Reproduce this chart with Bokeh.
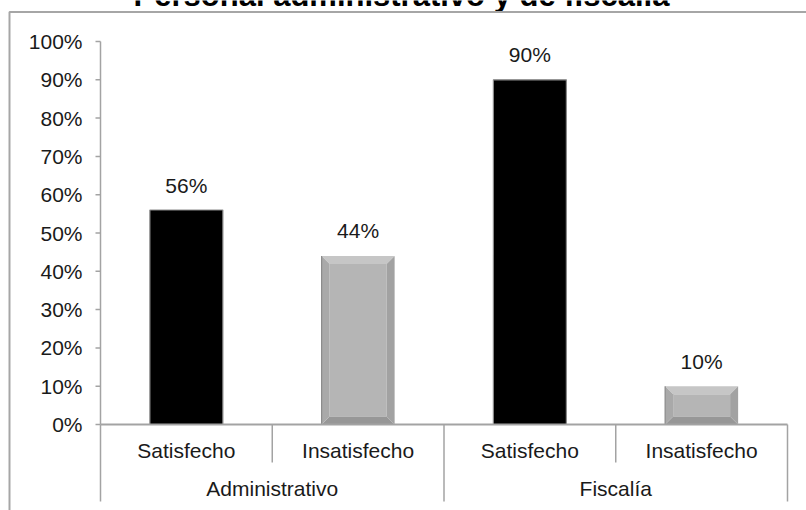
from bokeh.plotting import figure
from bokeh.models import Range1d
from bokeh.core.properties import value
from bokeh.embed import file_html
from bokeh.resources import INLINE

# ---- data ----
title = "Personal administrativo y de fiscalía"
groups = ["Administrativo", "Fiscalía"]
subcats = ["Satisfecho", "Insatisfecho"]
satisfecho = [0.56, 0.90]
insatisfecho = [0.44, 0.10]
y_ticks = [0.0, 0.1, 0.2, 0.3, 0.4, 0.5, 0.6, 0.7, 0.8, 0.9, 1.0]
y_tick_labels = ["0%", "10%", "20%", "30%", "40%", "50%", "60%", "70%", "80%", "90%", "100%"]

# ---- layout helpers (pixel -> data) ----
W, H = 806, 510
X0PX, UNITX = 100.0, 171.75     # category 0 at px 100, 1 category = 171.75 px
Y0PX, UNITY = 424.0, 383.0      # 0% at py 424, 100% = 383 px

def PX(px):
    return (px - X0PX) / UNITX

def PY(py):
    return (Y0PX - py) / UNITY

FONT = value("Liberation Sans")
TXT = "#1a1a1a"
GRID = "#a3a3a3"
FS = "21px"

p = figure(width=W, height=H, output_backend="svg", toolbar_location=None,
           x_range=Range1d(PX(0), PX(W)), y_range=Range1d(PY(H), PY(0)),
           x_axis_location=None, y_axis_location=None, min_border=0)
p.outline_line_color = None
p.xgrid.visible = False
p.ygrid.visible = False
p.background_fill_color = "white"
p.border_fill_color = "white"

n_sub = len(subcats)
n_cat = len(groups) * n_sub
bw = 73.0 / UNITX

# ---- title (cut off at the top, as in the reference) ----
p.text(x=[PX(401)], y=[PY(-5)], text=[title], text_font=FONT, text_font_size="31px",
       text_font_style="bold", text_align="center", text_baseline="alphabetic", text_color="#000000")

# ---- outer chart border ----
p.line([PX(9), PX(9), PX(W)], [PY(H), PY(11.5), PY(11.5)], line_color="#a6a6a6", line_width=2)

# ---- black bars (Satisfecho) ----
sat_x = [g * n_sub + 0.5 for g in range(len(groups))]
p.vbar(x=sat_x, top=satisfecho, bottom=0, width=bw, fill_color="#000000",
       line_color="#8a8a8a", line_width=1.2)

# ---- bevelled grey bars (Insatisfecho) ----
ins_x = [g * n_sub + 1.5 for g in range(len(groups))]
bx = 8.0 / UNITX
by = 8.0 / UNITY
faces_xs, faces_ys = [], []
tops_xs, tops_ys = [], []
bots_xs, bots_ys = [], []
lefts_xs, lefts_ys = [], []
rights_xs, rights_ys = [], []
for xc, t in zip(ins_x, insatisfecho):
    L, R = xc - bw / 2, xc + bw / 2
    faces_xs.append([L + bx, R - bx, R - bx, L + bx]); faces_ys.append([by, by, t - by, t - by])
    tops_xs.append([L, R, R - bx, L + bx]); tops_ys.append([t, t, t - by, t - by])
    bots_xs.append([L, R, R - bx, L + bx]); bots_ys.append([0, 0, by, by])
    lefts_xs.append([L, L, L + bx, L + bx]); lefts_ys.append([0, t, t - by, by])
    rights_xs.append([R, R, R - bx, R - bx]); rights_ys.append([0, t, t - by, by])
p.patches(faces_xs, faces_ys, fill_color="#b5b5b5", line_color=None)
p.patches(tops_xs, tops_ys, fill_color="#c6c6c6", line_color=None)
p.patches(bots_xs, bots_ys, fill_color="#979797", line_color=None)
p.patches(lefts_xs, lefts_ys, fill_color="#a9a9a9", line_color=None)
p.patches(rights_xs, rights_ys, fill_color="#a2a2a2", line_color=None)
p.segment(x0=[xc - bw / 2 for xc in ins_x], y0=[0] * len(ins_x),
          x1=[xc - bw / 2 for xc in ins_x], y1=insatisfecho, line_color="#8a8a8a", line_width=1.2)

# ---- value labels ----
all_x = sat_x + ins_x
all_v = satisfecho + insatisfecho
p.text(x=all_x, y=all_v, text=[f"{round(v * 100)}%" for v in all_v], y_offset=-25,
       text_font=FONT, text_font_size=FS, text_align="center",
       text_baseline="alphabetic", text_color=TXT)

# ---- y axis ----
p.segment(x0=[0], y0=[0], x1=[0], y1=[y_ticks[-1]], line_color=GRID, line_width=1.5)
p.segment(x0=[PX(95)] * len(y_ticks), y0=y_ticks, x1=[0] * len(y_ticks), y1=y_ticks,
          line_color=GRID, line_width=1.5)
p.text(x=[PX(82)] * len(y_ticks), y=y_ticks, text=y_tick_labels, text_font=FONT,
       text_font_size=FS, text_align="right", text_baseline="middle", text_color=TXT)

# ---- x axis (two-level categories) ----
p.segment(x0=[0], y0=[0], x1=[n_cat], y1=[0], line_color=GRID, line_width=2)
sub_sep = [g * n_sub + k for g in range(len(groups)) for k in range(1, n_sub)]
grp_sep = [g * n_sub for g in range(len(groups) + 1)]
p.segment(x0=sub_sep, y0=[0] * len(sub_sep), x1=sub_sep, y1=[PY(462)] * len(sub_sep),
          line_color=GRID, line_width=1.5)
p.segment(x0=grp_sep, y0=[0] * len(grp_sep), x1=grp_sep, y1=[PY(501)] * len(grp_sep),
          line_color=GRID, line_width=1.5)
p.text(x=[i + 0.5 for i in range(n_cat)], y=[PY(449.5)] * n_cat,
       text=[subcats[i % n_sub] for i in range(n_cat)], text_font=FONT, text_font_size=FS,
       text_align="center", text_baseline="middle", text_color=TXT)
p.text(x=[g * n_sub + n_sub / 2 for g in range(len(groups))], y=[PY(488)] * len(groups),
       text=groups, text_font=FONT, text_font_size=FS,
       text_align="center", text_baseline="middle", text_color=TXT)

open("out.html", "w", encoding="utf-8").write(file_html(p, INLINE))
